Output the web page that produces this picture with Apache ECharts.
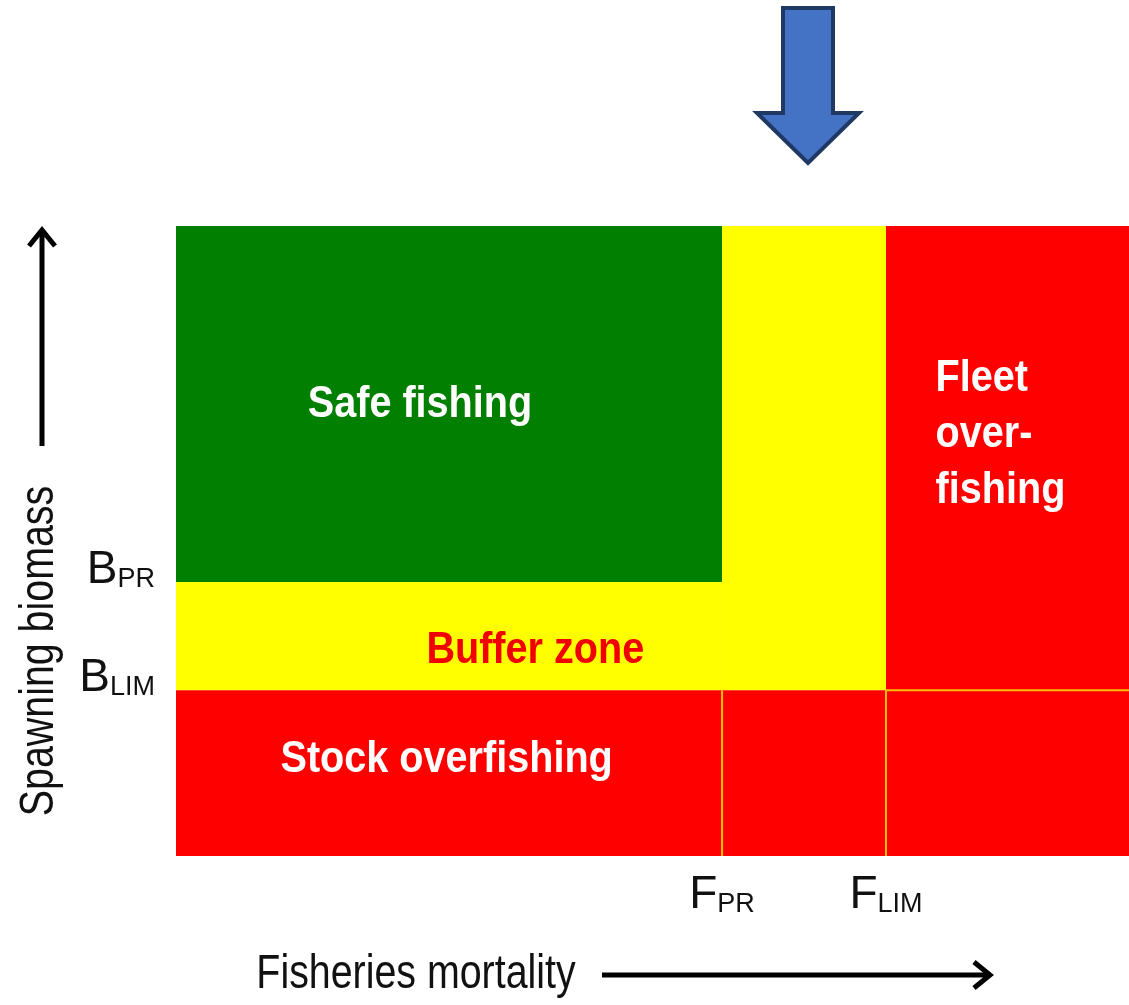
<!DOCTYPE html>
<html>
<head>
<meta charset="utf-8">
<script src="https://cdn.jsdelivr.net/npm/echarts@6/dist/echarts.min.js"></script>
<style>
  html, body { margin: 0; padding: 0; background: #fff; }
  #chart { width: 1129px; height: 1005px; }
</style>
</head>
<body>
<div id="chart"></div>
<script>
// reference points on both axes (axis runs 0..100)
const fRefs = [57.3, 74.5];
const fNames = [['F', 'PR'], ['F', 'LIM']];
const bRefs = [26.3, 43.5];
const bNames = [['B', 'LIM'], ['B', 'PR']];

// zone labels and where they sit (data units)
const zoneLabels = ['Safe fishing', 'Buffer zone', 'Stock overfishing', 'Fleet\nover-\nfishing'];
const labelX = [25.6, 37.7, 28.4, 79.7];
const labelY = [71.6, 32.5, 15.2, 66.8];

const SANS = "'Liberation Sans', Arial, sans-serif";

const FPR = fRefs[0], FLIM = fRefs[1];
const BLIM = bRefs[0], BPR = bRefs[1];

// cells: [x0, x1, y0, y1, kind]  kind 0 green, 1 yellow, 2 red
let cells = [
    [0, FPR, BPR, 100, 0],
    [FPR, FLIM, BLIM, 100, 1],
    [0, FPR, BLIM, BPR, 1],
    [FLIM, 100, BLIM, 100, 2],
    [0, 100, 0, BLIM, 2]
];
let cellColors = ['#007F00', '#FFFF00', '#FF0000'];

// thin dividers inside the red cells: [x0, y0, x1, y1]
let dividers = [
    [FPR, 0, FPR, BLIM],
    [FLIM, 0, FLIM, BLIM],
    [FLIM, BLIM, 100, BLIM]
];

let textColors = ['#ffffff', '#F00000', '#ffffff', '#ffffff'];

let chart = echarts.init(document.getElementById('chart'));

function refLabel(refs, names) {
    return function (v) {
        let i = refs.indexOf(v);
        if (i < 0) return '';
        return '{m|' + names[i][0] + '}{s|' + names[i][1] + '}';
    }
}

let rich = {
    m: {fontSize: 46, fontFamily: SANS, color: '#111', lineHeight: 48, verticalAlign: 'bottom'},
    s: {fontSize: 27, fontFamily: SANS, color: '#111', lineHeight: 34, verticalAlign: 'bottom'}
};

let option = {
    animation: false,
    backgroundColor: '#ffffff',
    grid: {left: 176, top: 226, width: 953, height: 630},
    xAxis: {
        type: 'value', min: 0, max: 100,
        axisLine: {show: false}, axisTick: {show: false}, splitLine: {show: false},
        axisLabel: {
            customValues: fRefs, margin: 14,
            formatter: refLabel(fRefs, fNames), rich: rich
        }
    },
    yAxis: {
        type: 'value', min: 0, max: 100,
        axisLine: {show: false}, axisTick: {show: false}, splitLine: {show: false},
        axisLabel: {
            customValues: bRefs, margin: 21,
            verticalAlign: 'middle', padding: [0, 0, 26, 0],
            formatter: refLabel(bRefs, bNames), rich: rich
        }
    },
    series: [
        {
            type: 'custom',
            data: cells,
            encode: {x: [0, 1], y: [2, 3]},
            renderItem: function (params, api) {
                let p0 = api.coord([api.value(0), api.value(3)]);
                let p1 = api.coord([api.value(1), api.value(2)]);
                return {
                    type: 'rect',
                    shape: {x: p0[0], y: p0[1], width: p1[0] - p0[0], height: p1[1] - p0[1]},
                    style: {fill: cellColors[api.value(4)]}
                };
            },
            z: 1
        },
        {
            type: 'custom',
            data: dividers,
            encode: {x: [0, 2], y: [1, 3]},
            renderItem: function (params, api) {
                let p0 = api.coord([api.value(0), api.value(1)]);
                let p1 = api.coord([api.value(2), api.value(3)]);
                return {
                    type: 'line',
                    shape: {x1: p0[0], y1: p0[1], x2: p1[0], y2: p1[1]},
                    style: {stroke: '#FFC000', lineWidth: 2}
                };
            },
            z: 2
        },
        {
            type: 'custom',
            data: zoneLabels.map((t, i) => [labelX[i], labelY[i]]),
            renderItem: function (params, api) {
                let i = params.dataIndex;
                let p = api.coord([api.value(0), api.value(1)]);
                let fleet = i === 3;
                return {
                    type: 'text',
                    x: p[0], y: p[1], scaleX: 0.9,
                    style: {
                        text: zoneLabels[i],
                        fill: textColors[i],
                        font: 'bold 44px ' + SANS,
                        align: fleet ? 'left' : 'center',
                        verticalAlign: 'middle',
                        lineHeight: 56
                    }
                };
            },
            z: 3
        }
    ],
    graphic: [
        {
            type: 'polygon',
            shape: {points: [[783, 8], [833, 8], [833, 113], [859, 113], [808, 163], [757, 113], [783, 113]]},
            style: {fill: '#4472C4', stroke: '#1F3864', lineWidth: 4, lineJoin: 'miter'}
        },
        {
            type: 'polyline',
            shape: {points: [[42, 446], [42, 230]]},
            style: {stroke: '#000', lineWidth: 5}
        },
        {
            type: 'polyline',
            shape: {points: [[29, 246], [42, 230], [55, 246]]},
            style: {stroke: '#000', lineWidth: 5, fill: null, lineJoin: 'miter'}
        },
        {
            type: 'polyline',
            shape: {points: [[602, 975], [990, 975]]},
            style: {stroke: '#000', lineWidth: 5}
        },
        {
            type: 'polyline',
            shape: {points: [[974, 962], [990, 975], [974, 988]]},
            style: {stroke: '#000', lineWidth: 5, fill: null, lineJoin: 'miter'}
        },
        {
            type: 'text',
            x: 40, y: 651, rotation: Math.PI / 2, scaleX: 0.82,
            style: {
                text: 'Spawning biomass', fill: '#111',
                font: '48px ' + SANS, align: 'center', verticalAlign: 'middle'
            }
        },
        {
            type: 'text',
            x: 416, y: 975, scaleX: 0.82,
            style: {
                text: 'Fisheries mortality', fill: '#111',
                font: '48px ' + SANS, align: 'center', verticalAlign: 'middle'
            }
        }
    ]
};

chart.setOption(option);
</script>
</body>
</html>
